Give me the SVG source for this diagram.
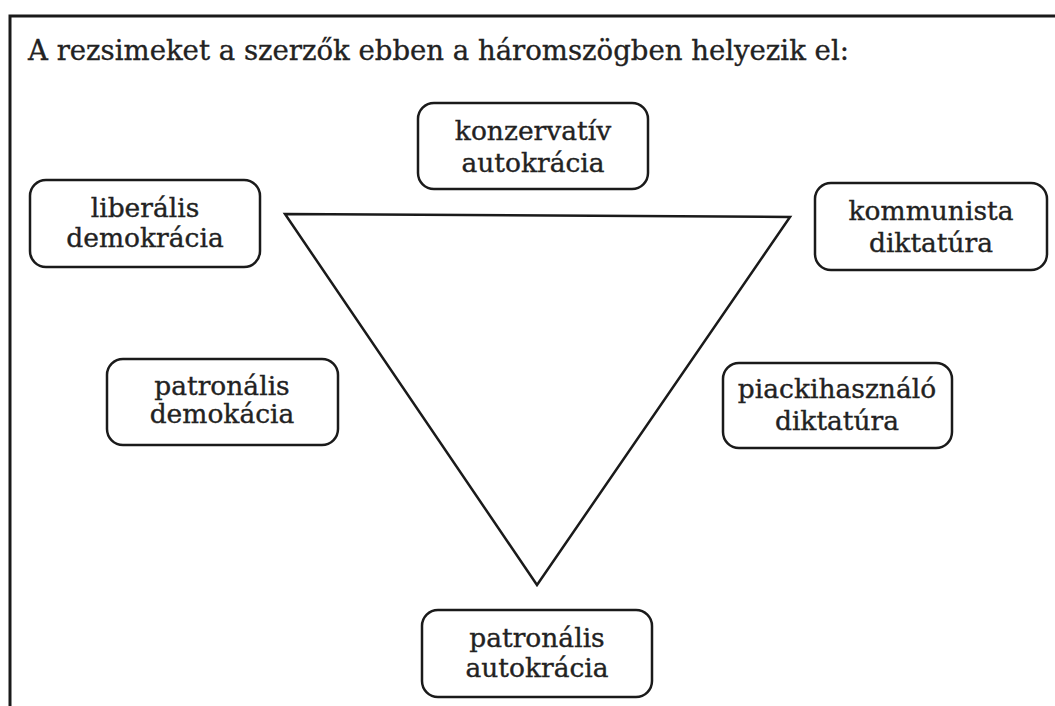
<svg xmlns="http://www.w3.org/2000/svg" width="1055" height="706" viewBox="0 0 1055 706">
<style>
.box{fill:#fff;stroke:#1a1a1a;stroke-width:2.5}
.lbl{font-family:"DejaVu Serif","Liberation Serif",serif;font-size:26.5px;fill:#222;stroke:#222;stroke-width:0.35;text-anchor:middle}
.title{font-family:"DejaVu Serif","Liberation Serif",serif;font-size:28px;fill:#222;stroke:#222;stroke-width:0.35}
.edge{fill:none;stroke:#1a1a1a;stroke-width:2.5;stroke-linejoin:miter}
</style>
<rect width="1055" height="706" fill="#fff"/>
<path d="M10,706 V16 H1055" fill="none" stroke="#1a1a1a" stroke-width="3"/>
<text class="title" x="28" y="60" textLength="821" lengthAdjust="spacingAndGlyphs">A rezsimeket a szerzők ebben a háromszögben helyezik el:</text>
<g id="connectors">
<polygon class="edge" points="285,214 790,217 537,585"/>
</g>
<g id="konzervativ-autokracia">
<rect class="box" x="418" y="103" width="230" height="86" rx="16"/>
<text class="lbl" x="533" y="140">konzervatív</text>
<text class="lbl" x="533" y="172">autokrácia</text>
</g>
<g id="liberalis-demokracia">
<rect class="box" x="30" y="180" width="230" height="87" rx="16"/>
<text class="lbl" x="145" y="217">liberális</text>
<text class="lbl" x="145" y="247">demokrácia</text>
</g>
<g id="kommunista-diktatura">
<rect class="box" x="815" y="183" width="232" height="87" rx="16"/>
<text class="lbl" x="931" y="220">kommunista</text>
<text class="lbl" x="931" y="252">diktatúra</text>
</g>
<g id="patronalis-demokacia">
<rect class="box" x="107" y="359" width="231" height="86" rx="16"/>
<text class="lbl" x="222" y="395">patronális</text>
<text class="lbl" x="222" y="423">demokácia</text>
</g>
<g id="piackihasznalo-diktatura">
<rect class="box" x="723" y="363" width="229" height="85" rx="16"/>
<text class="lbl" x="837" y="398">piackihasználó</text>
<text class="lbl" x="837" y="430">diktatúra</text>
</g>
<g id="patronalis-autokracia">
<rect class="box" x="422" y="610" width="230" height="87" rx="16"/>
<text class="lbl" x="537" y="647">patronális</text>
<text class="lbl" x="537" y="677">autokrácia</text>
</g>
</svg>
